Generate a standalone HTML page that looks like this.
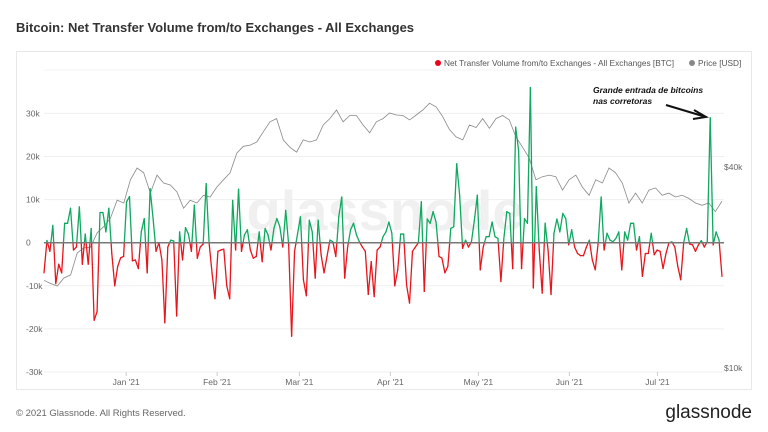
<!DOCTYPE html>
<html><head><meta charset="utf-8"><style>
body{margin:0;background:#fff;font-family:"Liberation Sans",sans-serif;}
#wrap{position:relative;width:768px;height:432px;overflow:hidden;}
</style></head><body>
<div id="wrap">
<svg id="svg" width="768" height="432">
<text x="16" y="32" font-size="13" fill="#333" font-weight="bold">Bitcoin: Net Transfer Volume from/to Exchanges - All Exchanges</text>
<rect x="16.5" y="51.5" width="735" height="338" fill="none" stroke="#e8e8e8"/>
<text x="385" y="230" font-size="56" fill="#f0f0f0" font-weight="bold" text-anchor="middle">glassnode</text>
<g>
<circle cx="438" cy="63" r="3" fill="#e8001c"/>
<text x="444" y="66" font-size="8.3" fill="#555">Net Transfer Volume from/to Exchanges - All Exchanges [BTC]</text>
<circle cx="692" cy="63" r="3" fill="#888"/>
<text x="698" y="66" font-size="8.3" fill="#555">Price [USD]</text>
</g>
<g id="grid"></g><g id="price"></g><g id="flow"></g><g id="axes"></g>
<g>
<text x="593" y="93" font-size="8.5" font-style="italic" font-weight="bold" fill="#111">Grande entrada de bitcoins</text>
<text x="593" y="104" font-size="8.5" font-style="italic" font-weight="bold" fill="#111">nas corretoras</text>
<line x1="666" y1="105" x2="706" y2="117" stroke="#111" stroke-width="2"/>
<polyline points="694,110 706,117 693,119" fill="none" stroke="#111" stroke-width="2"/>
</g>
<text x="16" y="416" font-size="9.5" fill="#666">© 2021 Glassnode. All Rights Reserved.</text>
<text x="752" y="418" font-size="19" fill="#222" text-anchor="end">glassnode</text>
</svg>
</div>
<script>
const flowValues=[-7,0.5,-2,4,-9.5,-5,-7,4.5,4.5,8,-1.7,-1,8.3,-5,2,-5,3.3,-18,-16,7,7,2.5,8,-2.5,-10,-5.5,-3.5,-3.2,9.5,10.7,-4.2,-4,-6,2.5,5.6,-7,12.5,5.6,-2,0,-4,-18.6,-1,0.6,0.4,-17,2.5,-4,3.5,2,-2,8.7,-3.6,-1,-0.3,13.7,0,-7,-13,-2,-1.7,-1.5,-10,-13,9.8,-1.7,12.4,-2,1.8,3,-1.7,-3.6,-3.2,2.5,-4.4,3.3,1.8,-1.7,3.3,5.6,3.7,-1,7.5,-0.5,-21.7,-2,2,6,-8.6,-12.3,5.2,2.5,-8.2,5.2,-2.8,-7,-3.2,0.6,0.2,-3.2,6,10.6,-8.2,-1,3,4.5,1.8,0.2,-1,-2,-12,-4.4,-12.5,-1.7,-1,1.4,
2.5,4.8,2.2,-10,-6.3,2,2,-9.8,-14,-2,-1,0,9.5,-11.3,5.5,4.5,7.2,4.8,-3.2,-3.6,-7,-5.5,3.3,3.7,18.3,11,-1.3,0.6,-1,0.2,5.2,11,-6.3,-1,1.4,1.4,4.8,1.4,1,-9,1,7.2,6.8,-6,26.8,21.4,-6,5.6,4.5,36,-10.5,13,-1.7,-11.7,4.5,-1.7,-12,2.2,5.5,2.5,6.8,5.6,-0.5,3,-1,-2.5,-3,-3,-1,0.6,-4,-6.3,0,10.6,-1.7,2.2,0.6,0.2,1,2.5,-6.3,2.5,0.6,4.5,4.5,-1.7,1.4,-7.8,-2.5,-2.5,2.2,-2.8,-1.7,-2,-6,-2.5,0,0.2,-1,-5.5,-8.6,0,3.3,-0.3,-0.5,-2,-0.5,0.5,-1,0.2,29,-0.5,2.5,0.6,-7.8];
const priceValues=[18.3,17.9,17.6,18.6,19,22.1,22.9,23,25.4,26.5,28.1,31.8,31.2,36.6,39.7,38.4,33.4,37.8,35.8,35.3,33.7,30.1,31.8,31.2,32.9,32.5,34.8,36.6,38.4,44,46.1,46.5,47.5,51,54.6,55.8,48.2,45.8,44.3,48.2,47.5,48.2,53.4,55.8,59.2,54.6,57,57,53.4,50.6,54.6,55.8,
58,57.2,57,55.3,57.2,59.2,62,60.5,56.5,51.7,49.2,48.2,53.4,52.5,55.8,52.2,55.8,57,55.3,49.2,45.8,42.5,36.6,37.4,37.8,37.4,34.1,36.6,37.8,34.8,32.9,36.6,35.8,39.7,38.4,35.8,31.2,33.4,31.2,34.1,34.6,32.9,33.4,32.5,32.9,32.2,31.2,30.7,31.2,29.4,31.6];
const leftTicks=[30,20,10,0,-10,-20,-30];
const leftTickLabels=["30k","20k","10k","0","-10k","-20k","-30k"];
const priceTicks=[40,10];
const priceTickLabels=["$40k","$10k"];
const monthLabels=["Jan '21","Feb '21","Mar '21","Apr '21","May '21","Jun '21","Jul '21"];
const monthDays=[28,59,87,118,148,179,209];
const totalDays=231;

const NS="http://www.w3.org/2000/svg";
const X0=44,X1=722;
const xDay=d=>X0+(X1-X0)*d/totalDays;
const yFlow=v=>242.7-v*4.31;
const yPrice=p=>368-Math.log10(p/10)*334;
function mk(tag,attrs,parent,txt){const e=document.createElementNS(NS,tag);for(const k in attrs)e.setAttribute(k,attrs[k]);if(txt!==undefined)e.textContent=txt;document.getElementById(parent).appendChild(e);return e;}

leftTicks.forEach((t,i)=>{
  if(t!==0){const g=mk('line',{x1:X0,x2:X1+2,y1:yFlow(t),y2:yFlow(t),stroke:'#efefef'},'grid');
  
  }
  const l=mk('text',{x:26,y:yFlow(t)+3,'font-size':8.5,fill:'#666'},'axes',leftTickLabels[i]);
  
  
});
const tg=mk('line',{x1:X0,x2:X1+2,y1:70,y2:70,stroke:'#f3f3f3'},'grid');


priceTicks.forEach((p,i)=>{
  const l=mk('text',{x:724,y:yPrice(p)+3,'font-size':8.5,fill:'#666'},'axes',priceTickLabels[i]);
  
  
});
monthLabels.forEach((m,i)=>{
  const x=xDay(monthDays[i]);
  const t=mk('line',{x1:x,x2:x,y1:372,y2:376,stroke:'#ccc'},'axes');
  
  
  const l=mk('text',{x:x,y:385,'font-size':8.5,fill:'#666','text-anchor':'middle'},'axes',m);
  
  
});
const pn=priceValues.length;
const pp=priceValues.map((p,i)=>xDay(i*totalDays/(pn-1)).toFixed(1)+','+yPrice(p).toFixed(1)).join(' ');
const pl=mk('polyline',{points:pp,fill:'none',stroke:'#8a8a8a','stroke-width':0.8},'price');


const n=flowValues.length;
const fx=i=>xDay(i*totalDays/(n-1));
for(let i=0;i<n-1;i++){
  const a=flowValues[i],b=flowValues[i+1];
  const xa=fx(i),xb=fx(i+1);
  const segs=[];
  if((a>=0)===(b>=0)) segs.push([xa,a,xb,b]);
  else{const xm=xa+(xb-xa)*a/(a-b);segs.push([xa,a,xm,0]);segs.push([xm,0,xb,b]);}
  segs.forEach(s=>{
    const pos=(s[1]+s[3])>=0;
    const l=mk('line',{x1:s[0],y1:yFlow(s[1]),x2:s[2],y2:yFlow(s[3]),stroke:pos?'#10a860':'#e8151c','stroke-width':1.3,'stroke-linecap':'round'},'flow');
    
    
  });
}
const z=mk('line',{x1:X0,x2:X1+2,y1:yFlow(0),y2:yFlow(0),stroke:'#777','stroke-width':1.5},'flow');


</script>
</body></html>
